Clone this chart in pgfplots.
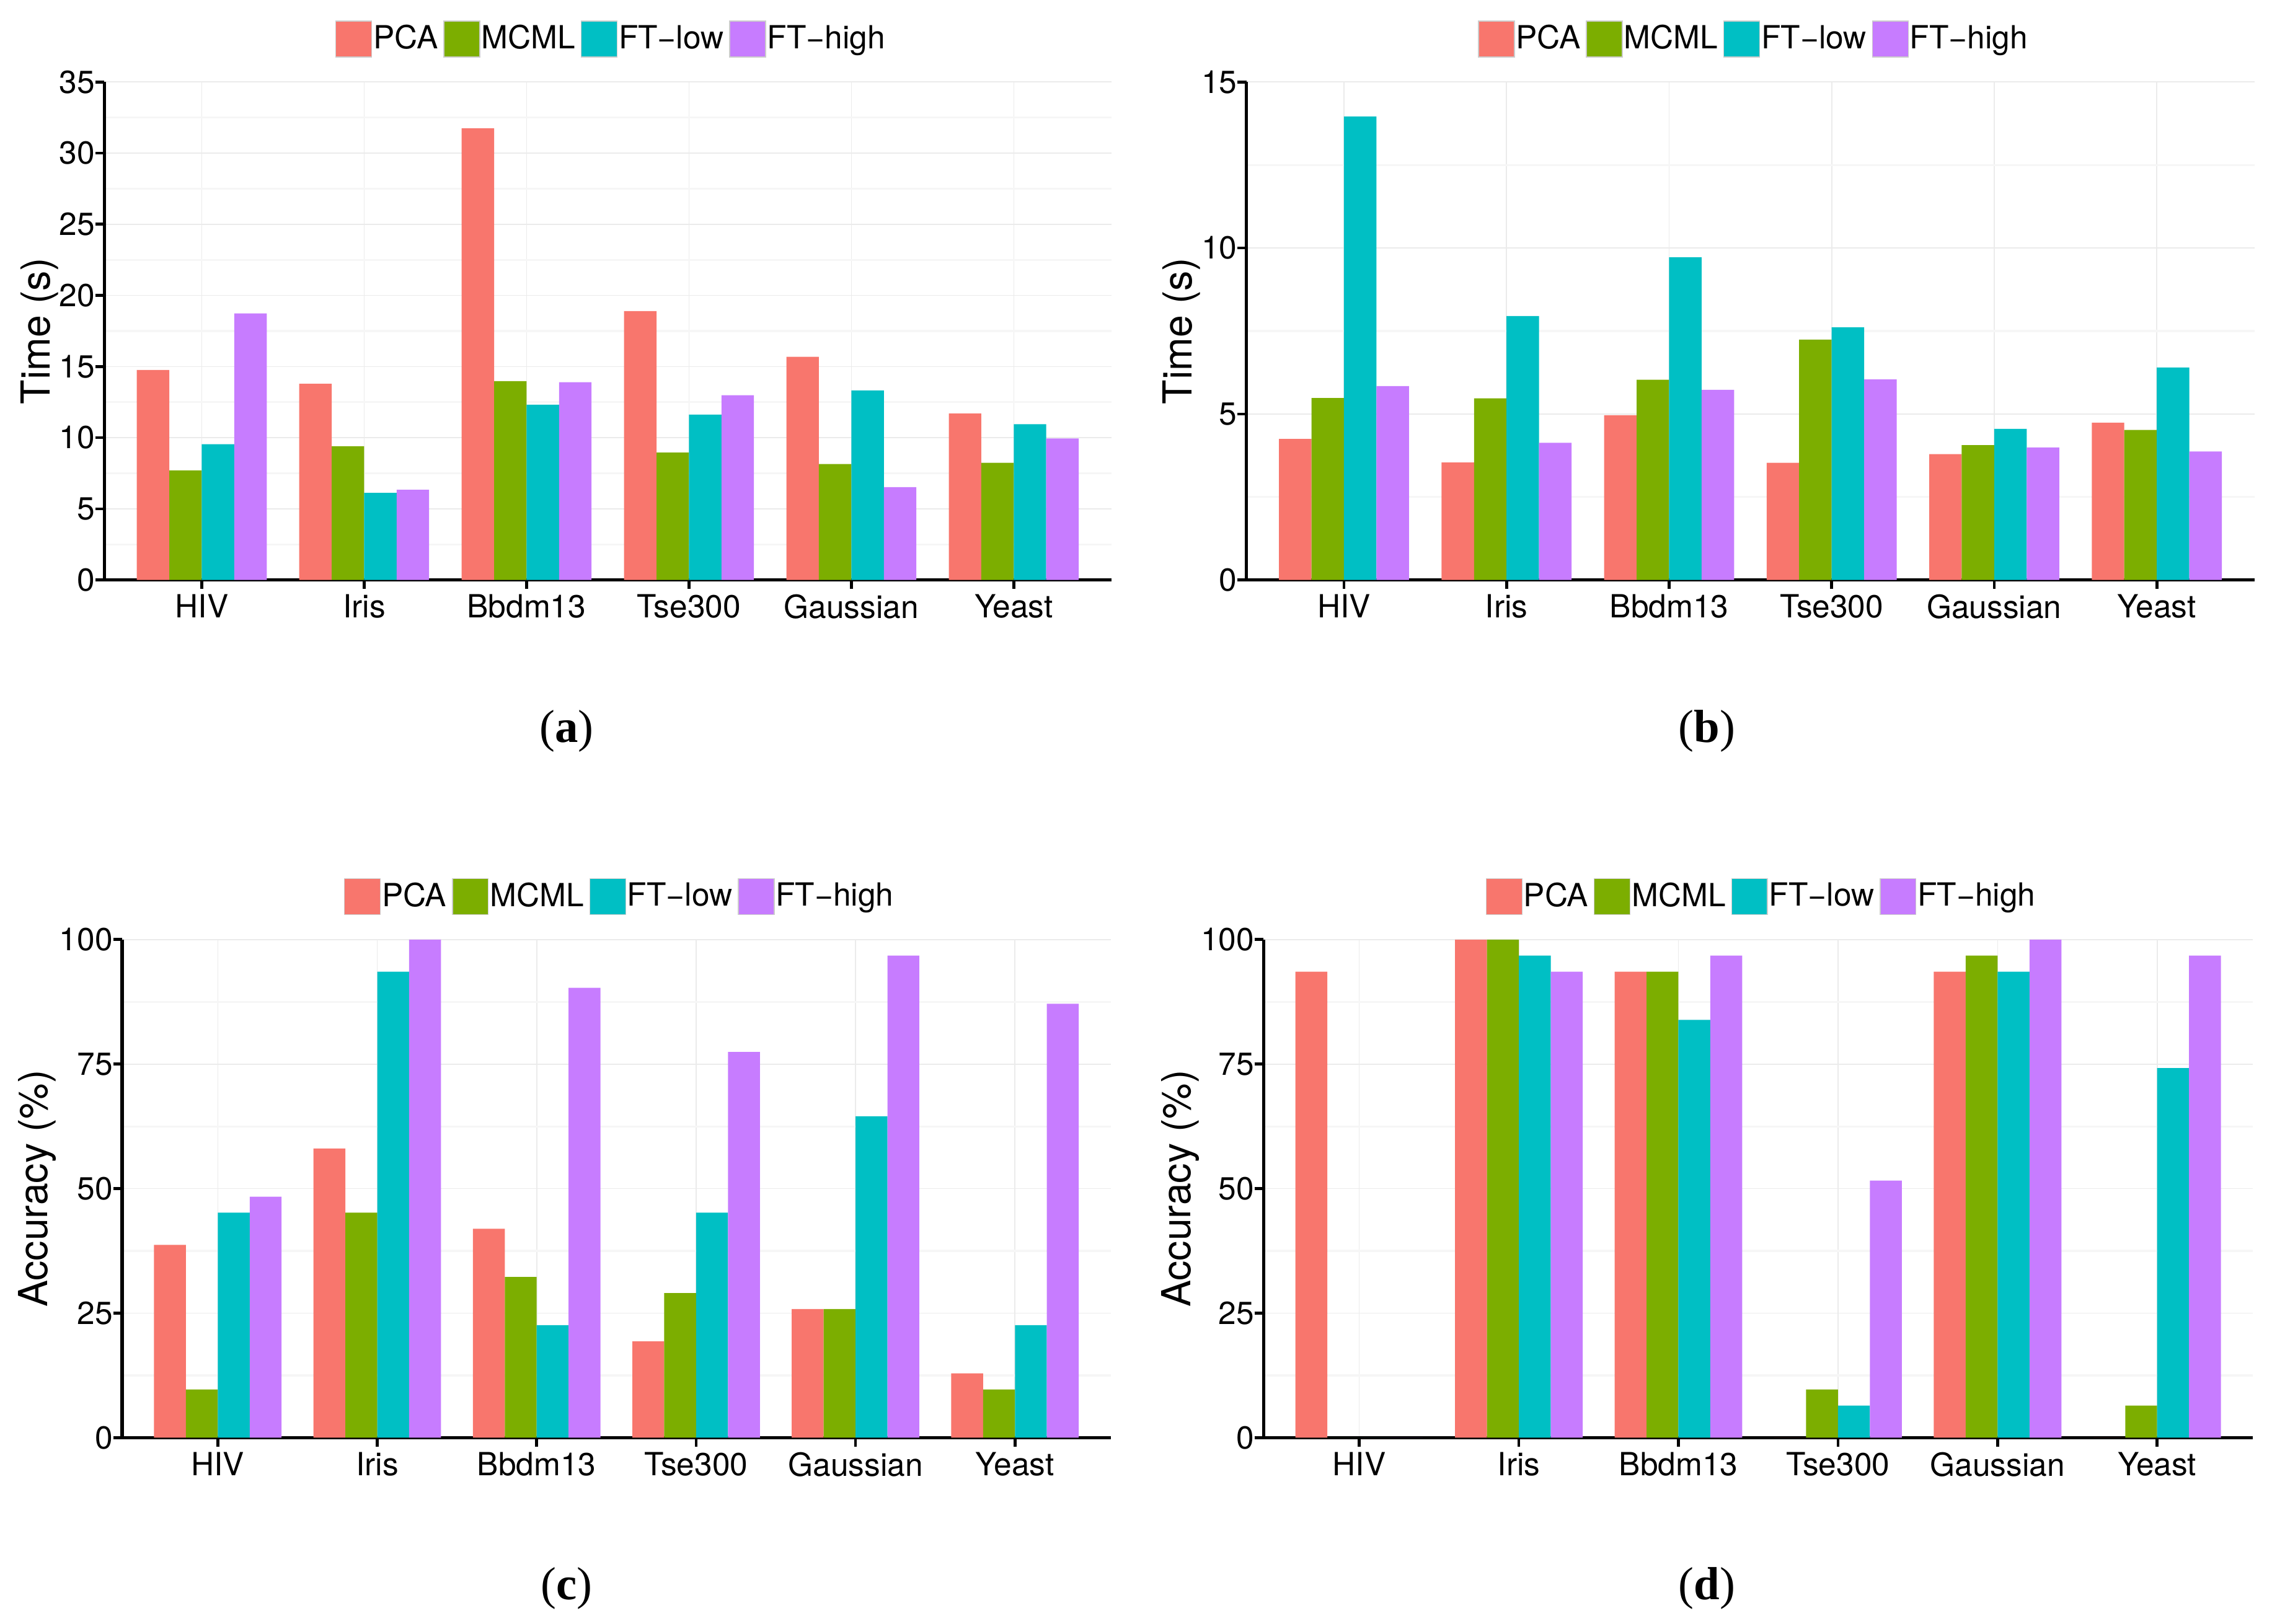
\documentclass[border=0pt]{standalone}
\usepackage{fontspec}
\setmainfont{TeX Gyre Heros}
\newfontfamily\capfont{Liberation Serif}
\usepackage{pgfplots}
\usepackage{pgfplotstable}
\pgfplotsset{compat=1.18}

\definecolor{cPCA}{HTML}{F8766D}
\definecolor{cMCML}{HTML}{7CAE00}
\definecolor{cFTl}{HTML}{00BFC4}
\definecolor{cFTh}{HTML}{C77CFF}
\definecolor{gridmaj}{HTML}{EBEBEB}
\definecolor{gridmin}{HTML}{F6F6F6}
\definecolor{keyborder}{HTML}{CCCCCC}

\pgfplotstableread{
x PCA MCML FTlow FThigh
0 14.76 7.70 9.54 18.74
1 13.79 9.40 6.12 6.34
2 31.75 13.98 12.32 13.90
3 18.90 8.95 11.62 12.98
4 15.68 8.15 13.32 6.53
5 11.70 8.23 10.95 9.95
}\tabA
\pgfplotstableread{
x PCA MCML FTlow FThigh
0 4.25 5.48 13.96 5.84
1 3.54 5.47 7.95 4.13
2 4.96 6.03 9.72 5.73
3 3.53 7.24 7.61 6.04
4 3.79 4.06 4.55 3.99
5 4.74 4.52 6.40 3.87
}\tabB
\pgfplotstableread{
x PCA MCML FTlow FThigh
0 38.71 9.68 45.16 48.39
1 58.06 45.16 93.55 100
2 41.94 32.26 22.58 90.32
3 19.35 29.03 45.16 77.42
4 25.81 25.81 64.52 96.77
5 12.90 9.68 22.58 87.10
}\tabC
\pgfplotstableread{
x PCA MCML FTlow FThigh
0 93.55 0 0 0
1 100 100 96.77 93.55
2 93.55 93.55 83.87 96.77
3 0 9.68 6.45 51.61
4 93.55 96.77 93.55 100
5 0 6.45 74.19 96.77
}\tabD

\pgfplotsset{
  layers/mylayers/.define layer set={axis background,axis grid,main,axis ticks,axis lines,axis tick labels,axis descriptions,axis foreground}{},
  mybar/.style={fill=#1, draw=none,
    legend image code/.code={\path[fill=#1, draw=keyborder, line width=0.3pt] (0pt,-6.2pt) rectangle (12.4pt,6.2pt);}},
  myaxis/.style={
    set layers=mylayers,
    scale only axis,
    height=171.85pt,
    xmin=-0.6, xmax=5.6, ymin=0,
    enlargelimits=false,
    xtick={0,1,2,3,4,5},
    xticklabels={HIV,Iris,Bbdm13,Tse300,Gaussian,Yeast},
    axis x line*=bottom, axis y line*=left,
    axis line style={line width=1.15pt, black},
    tick align=outside, major tick length=3.1pt, minor tick length=0pt,
    major tick style={line width=1pt, black},
    xmajorgrids, ymajorgrids, yminorgrids,
    major grid style={gridmaj, line width=0.35pt},
    minor grid style={gridmin, line width=0.7pt},
    ybar, bar width=0.2,
    tick label style={font=\fontsize{11}{13}\selectfont},
    xticklabel style={anchor=north, inner sep=0pt, yshift=-1.7pt},
    yticklabel style={anchor=east, inner sep=0pt},
    /pgf/number format/assume math mode=true,
    ylabel style={font=\fontsize{13.8}{16}\selectfont, anchor=base},
    legend style={draw=none, fill=none, inner sep=0pt,
      at={(0.503,1)}, anchor=center, yshift=14.8pt,
      font=\fontsize{11}{13}\selectfont,
      nodes={inner sep=0.4pt},
      /tikz/every even column/.append style={column sep=1.5pt}},
    legend columns=4,
  }
}

\begin{document}
\begin{tikzpicture}

% (a)
\begin{axis}[myaxis, at={(36pt,360.1pt)}, anchor=south west,
  width=347.45pt, ymax=35,
  ytick={0,5,...,35}, minor ytick={2.5,7.5,...,32.5},
  ylabel={Time (s)}, ylabel style={at={(axis description cs:-0.054,0.5)}}]
\addplot[mybar=cPCA, bar shift=-0.3] table[x=x,y=PCA]{\tabA};
\addplot[mybar=cMCML, bar shift=-0.1] table[x=x,y=MCML]{\tabA};
\addplot[mybar=cFTl, bar shift=0.1] table[x=x,y=FTlow]{\tabA};
\addplot[mybar=cFTh, bar shift=0.3] table[x=x,y=FThigh]{\tabA};
\legend{PCA,MCML,FT−low,FT−high}
\end{axis}

% (b)
\begin{axis}[myaxis, at={(430.1pt,360.1pt)}, anchor=south west,
  width=347.8pt, ymax=15,
  ytick={0,5,10,15}, minor ytick={2.5,7.5,12.5},
  ylabel={Time (s)}, ylabel style={at={(axis description cs:-0.054,0.5)}}]
\addplot[mybar=cPCA, bar shift=-0.3] table[x=x,y=PCA]{\tabB};
\addplot[mybar=cMCML, bar shift=-0.1] table[x=x,y=MCML]{\tabB};
\addplot[mybar=cFTl, bar shift=0.1] table[x=x,y=FTlow]{\tabB};
\addplot[mybar=cFTh, bar shift=0.3] table[x=x,y=FThigh]{\tabB};
\legend{PCA,MCML,FT−low,FT−high}
\end{axis}

% (c)
\begin{axis}[myaxis, at={(42.15pt,64.1pt)}, anchor=south west,
  width=341.1pt, height=171.9pt, ymax=100,
  ytick={0,25,50,75,100}, minor ytick={12.5,37.5,62.5,87.5},
  ylabel={Accuracy (\%)}, ylabel style={at={(axis description cs:-0.0755,0.5)}}]
\addplot[mybar=cPCA, bar shift=-0.3] table[x=x,y=PCA]{\tabC};
\addplot[mybar=cMCML, bar shift=-0.1] table[x=x,y=MCML]{\tabC};
\addplot[mybar=cFTl, bar shift=0.1] table[x=x,y=FTlow]{\tabC};
\addplot[mybar=cFTh, bar shift=0.3] table[x=x,y=FThigh]{\tabC};
\legend{PCA,MCML,FT−low,FT−high}
\end{axis}

% (d)
\begin{axis}[myaxis, at={(436pt,64.1pt)}, anchor=south west,
  width=341.4pt, height=171.9pt, ymax=100,
  ytick={0,25,50,75,100}, minor ytick={12.5,37.5,62.5,87.5},
  ylabel={Accuracy (\%)}, ylabel style={at={(axis description cs:-0.0735,0.5)}}]
\addplot[mybar=cPCA, bar shift=-0.3] table[x=x,y=PCA]{\tabD};
\addplot[mybar=cMCML, bar shift=-0.1] table[x=x,y=MCML]{\tabD};
\addplot[mybar=cFTl, bar shift=0.1] table[x=x,y=FTlow]{\tabD};
\addplot[mybar=cFTh, bar shift=0.3] table[x=x,y=FThigh]{\tabD};
\legend{PCA,MCML,FT−low,FT−high}
\end{axis}

\node[font=\capfont\fontsize{16}{18}\selectfont, anchor=base] at (195.5pt,304.15pt) {(\textbf{a})};
\node[font=\capfont\fontsize{16}{18}\selectfont, anchor=base] at (589pt,304.15pt) {(\textbf{b})};
\node[font=\capfont\fontsize{16}{18}\selectfont, anchor=base] at (195.5pt,8.2pt) {(\textbf{c})};
\node[font=\capfont\fontsize{16}{18}\selectfont, anchor=base] at (589pt,8.2pt) {(\textbf{d})};

\pgfresetboundingbox
\path[use as bounding box] (0,0) rectangle (784pt,560.25pt);
\end{tikzpicture}
\end{document}
